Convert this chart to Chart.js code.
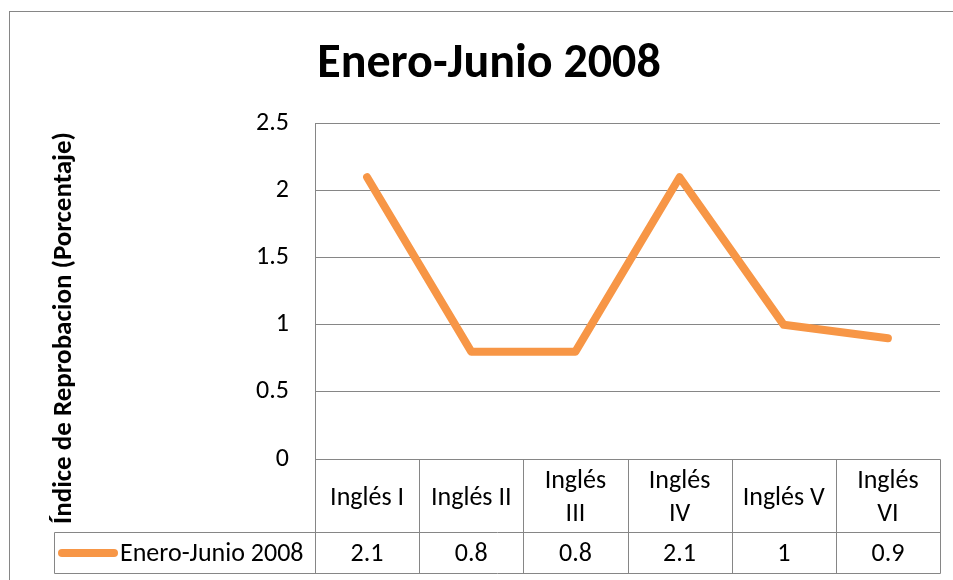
<!DOCTYPE html>
<html>
<head>
<meta charset="utf-8">
<script src="https://cdn.jsdelivr.net/npm/chart.js@4.4.1/dist/chart.umd.min.js"></script>
<style>
  html, body { margin: 0; padding: 0; background: #fff; }
  #wrap { width: 953px; height: 580px; position: relative; }
</style>
</head>
<body>
<div id="wrap"><canvas id="grafica"></canvas></div>
<script>
// Datos de la gráfica
const titulo = 'Enero-Junio 2008';
const serieNombre = 'Enero-Junio 2008';
const tituloEjeY = 'Índice de Reprobacion (Porcentaje)';
const cursos = ['Inglés I', 'Inglés II', ['Inglés', 'III'], ['Inglés', 'IV'], 'Inglés V', ['Inglés', 'VI']];
const reprobacion = [2.1, 0.8, 0.8, 2.1, 1, 0.9];
const ejeY = { min: 0, max: 2.5, paso: 0.5 };

const FUENTE = 'Carlito, Calibri, Lato, sans-serif';
const GRIS = '#868686';
const NARANJA = '#F79646';
const TAM = 26;

// Marco exterior, título del eje Y y tabla de datos
const tablaPlugin = {
    id: 'tablaDatos',
    beforeDraw(chart) {
        const ctx = chart.ctx;
        ctx.save();
        ctx.fillStyle = '#fff';
        ctx.fillRect(0, 0, chart.width, chart.height);
        ctx.strokeStyle = GRIS;
        ctx.lineWidth = 1;
        ctx.strokeRect(9.5, 11.5, chart.width + 50, chart.height + 50);
        ctx.restore();
    },
    afterDraw(chart) {
        const ctx = chart.ctx;
        const area = chart.chartArea;
        const x = chart.scales.x;
        const izq = Math.round(area.left) + 0.5;
        const der = Math.round(area.right) + 0.5;
        const arriba = Math.round(area.bottom) + 0.5;
        const medio = arriba + 73;
        const abajo = medio + 41;
        const legIzq = 54.5;

        ctx.save();
        ctx.strokeStyle = GRIS;
        ctx.lineWidth = 1;
        ctx.beginPath();
        // líneas horizontales
        ctx.moveTo(izq, arriba); ctx.lineTo(der, arriba);
        ctx.moveTo(legIzq, medio); ctx.lineTo(der, medio);
        ctx.moveTo(legIzq, abajo); ctx.lineTo(der, abajo);
        // celda de la leyenda
        ctx.moveTo(legIzq, medio); ctx.lineTo(legIzq, abajo);
        // columnas
        const bordes = [izq];
        for (let i = 0; i < cursos.length - 1; i++) {
            bordes.push(Math.round((x.getPixelForValue(i) + x.getPixelForValue(i + 1)) / 2) + 0.5);
        }
        bordes.push(der);
        bordes.forEach(b => { ctx.moveTo(b, arriba); ctx.lineTo(b, abajo); });
        ctx.stroke();

        // textos de la tabla
        ctx.fillStyle = '#000';
        ctx.font = `${TAM}px ${FUENTE}`;
        ctx.textAlign = 'center';
        ctx.textBaseline = 'middle';
        cursos.forEach((c, i) => {
            const cx = x.getPixelForValue(i);
            const lineas = Array.isArray(c) ? c : [c];
            const cy = (arriba + medio) / 2 + 2;
            lineas.forEach((l, j) => {
                ctx.fillText(l, cx, cy + (j - (lineas.length - 1) / 2) * 33);
            });
            ctx.fillText(String(reprobacion[i]), cx, (medio + abajo) / 2 + 1);
        });

        // clave de la leyenda
        const ly = (medio + abajo) / 2;
        ctx.strokeStyle = NARANJA;
        ctx.lineWidth = 8;
        ctx.lineCap = 'round';
        ctx.beginPath();
        ctx.moveTo(62, ly); ctx.lineTo(114, ly);
        ctx.stroke();
        ctx.textAlign = 'left';
        ctx.fillText(serieNombre, 120, ly + 1);

        // título del eje Y
        ctx.font = `bold 27px ${FUENTE}`;
        ctx.translate(64, 328);
        ctx.rotate(-Math.PI / 2);
        ctx.textAlign = 'center';
        ctx.fillText(tituloEjeY, 0, 0);
        ctx.restore();
    }
};

const ctx = document.getElementById('grafica').getContext('2d');
window.grafica = new Chart(ctx, {
    type: 'line',
    data: {
        labels: cursos,
        datasets: [{
            label: serieNombre,
            data: reprobacion,
            borderColor: NARANJA,
            borderWidth: 8,
            borderCapStyle: 'round',
            borderJoinStyle: 'round',
            pointRadius: 0,
            tension: 0,
            fill: false
        }]
    },
    options: {
        responsive: true,
        maintainAspectRatio: false,
        animation: false,
        layout: {
            padding: { left: 38, right: 13, top: 0, bottom: 121 }
        },
        plugins: {
            legend: { display: false },
            tooltip: { enabled: false },
            title: {
                display: true,
                text: titulo,
                color: '#000',
                font: { family: FUENTE, size: 48, weight: 'bold' },
                padding: { top: 36, bottom: 30 }
            }
        },
        scales: {
            x: {
                display: false,
                offset: true
            },
            y: {
                min: ejeY.min,
                max: ejeY.max,
                afterFit: s => { s.width = 277; },
                ticks: {
                    stepSize: ejeY.paso,
                    padding: 26,
                    color: '#000',
                    font: { family: FUENTE, size: TAM },
                    callback: v => String(v)
                },
                grid: {
                    color: GRIS,
                    drawTicks: false
                },
                border: { display: true, color: GRIS }
            }
        }
    },
    plugins: [tablaPlugin]
});
</script>
</body>
</html>
